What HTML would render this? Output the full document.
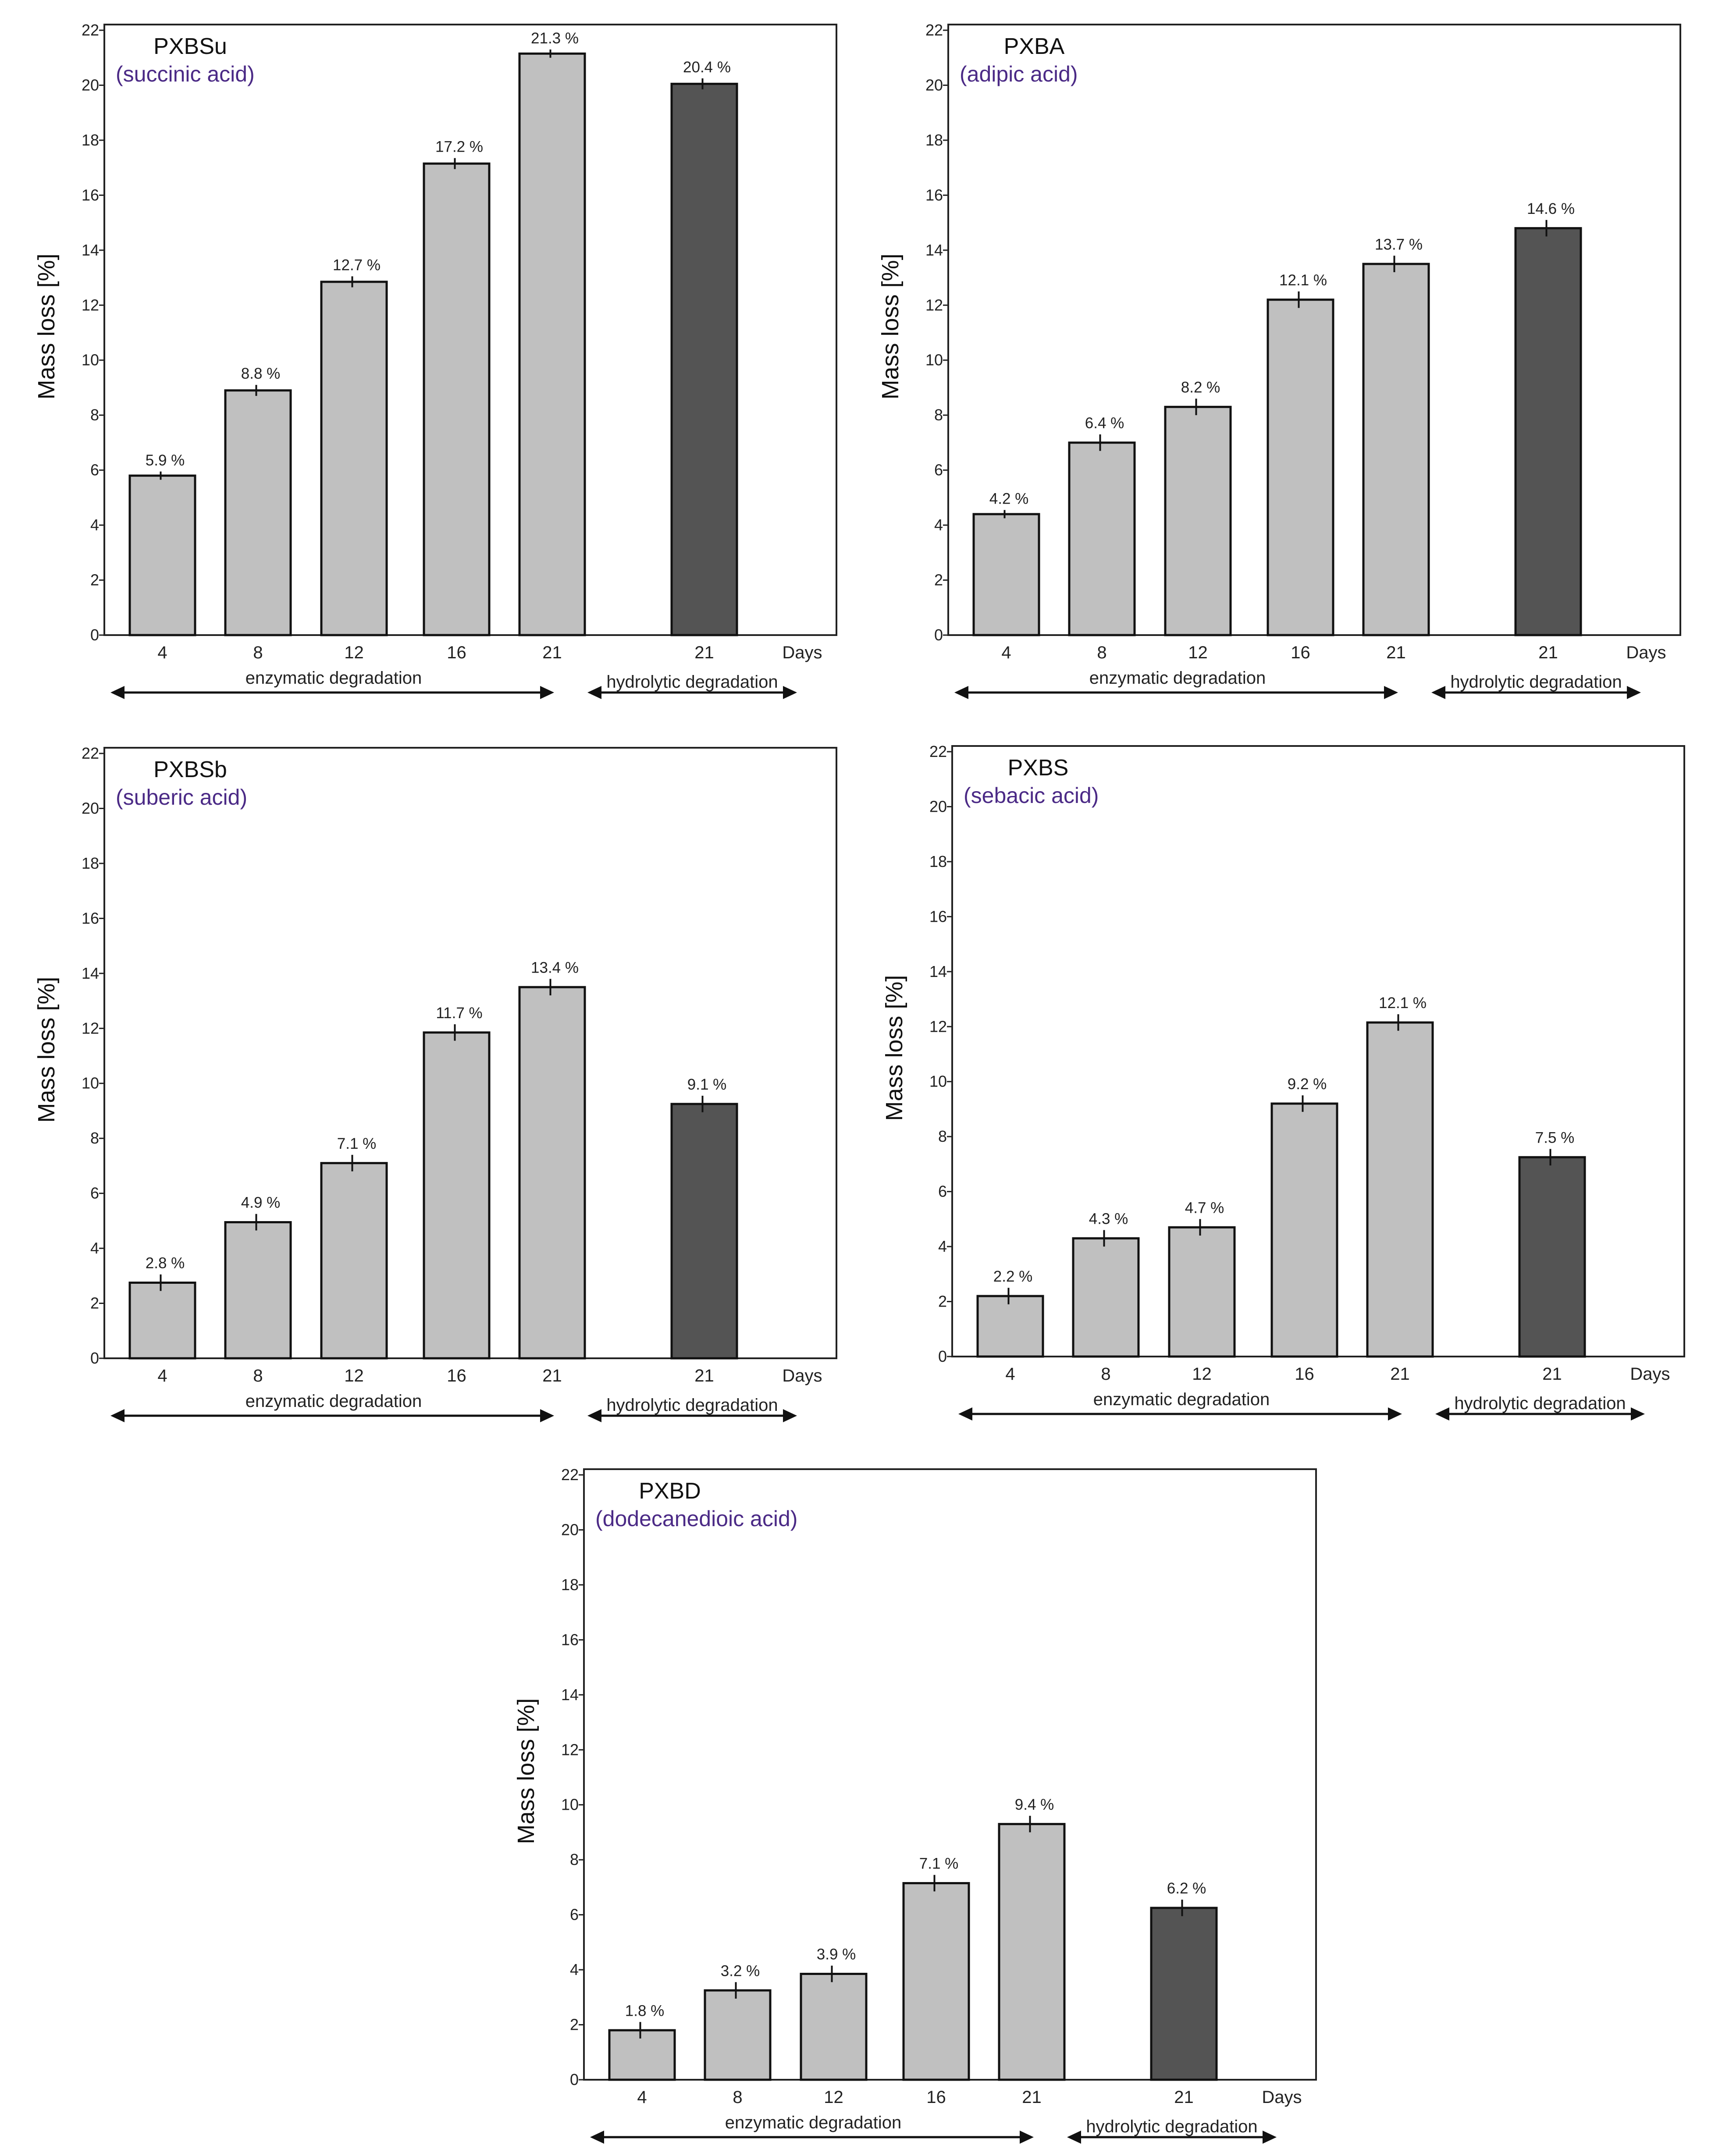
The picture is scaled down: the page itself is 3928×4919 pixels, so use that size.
<!DOCTYPE html>
<html><head><meta charset="utf-8"><style>
html,body{margin:0;padding:0;background:#fff;}
svg{display:block;font-family:"Liberation Sans",Arial,sans-serif;}
</style></head>
<body>
<svg id="fig" width="3928" height="4919" viewBox="0 0 3928 4919" xmlns="http://www.w3.org/2000/svg">
<rect width="3928" height="4919" fill="#fff"/>
</svg>
<script>
const categories = ["4","8","12","16","21","21"];
const yTicks = [0,2,4,6,8,10,12,14,16,18,20,22];
const titles = ["PXBSu","PXBA","PXBSb","PXBS","PXBD"];
const subtitles = ["(succinic acid)","(adipic acid)","(suberic acid)","(sebacic acid)","(dodecanedioic acid)"];
const valsSu = [5.8, 8.9, 12.85, 17.15, 21.15, 20.05];
const valsA  = [4.4, 7.0, 8.3, 12.2, 13.5, 14.8];
const valsSb = [2.75, 4.95, 7.1, 11.85, 13.5, 9.25];
const valsS  = [2.2, 4.3, 4.7, 9.2, 12.15, 7.25];
const valsD  = [1.8, 3.25, 3.85, 7.15, 9.3, 6.25];
const labSu = ["5.9 %","8.8 %","12.7 %","17.2 %","21.3 %","20.4 %"];
const labA  = ["4.2 %","6.4 %","8.2 %","12.1 %","13.7 %","14.6 %"];
const labSb = ["2.8 %","4.9 %","7.1 %","11.7 %","13.4 %","9.1 %"];
const labS  = ["2.2 %","4.3 %","4.7 %","9.2 %","12.1 %","7.5 %"];
const labD  = ["1.8 %","3.2 %","3.9 %","7.1 %","9.4 %","6.2 %"];
const errSu = [0.15,0.2,0.2,0.2,0.15,0.2];
const errA  = [0.15,0.3,0.3,0.3,0.3,0.3];
const errSb = [0.3,0.3,0.3,0.3,0.3,0.3];
const errS  = [0.3,0.3,0.3,0.3,0.3,0.3];
const errD  = [0.3,0.3,0.3,0.3,0.3,0.3];

const panels = [
 {dx:0, dy:0, v:valsSu, l:labSu, e:errSu},
 {dx:1925, dy:0, v:valsA, l:labA, e:errA},
 {dx:0, dy:1650, v:valsSb, l:labSb, e:errSb},
 {dx:1934, dy:1646, v:valsS, l:labS, e:errS},
 {dx:1094, dy:3296, v:valsD, l:labD, e:errD}
];
const NS="http://www.w3.org/2000/svg";
const svg=document.getElementById('fig');
function mk(tag,attrs,parent){const e=document.createElementNS(NS,tag);for(const k in attrs)e.setAttribute(k,attrs[k]);parent.appendChild(e);return e;}
const L=238,R=1908,T=56,Y0=1449,Y22=69;
const yS=v=>Y0-(Y0-Y22)*v/22;
const barLeft=[296,514,733,967,1185,1532];
const BW=149;
panels.forEach((p,pi)=>{
 const g=mk('g',{transform:`translate(${p.dx},${p.dy})`},svg);
 
 
 const fr=mk('rect',{x:L,y:T,width:R-L,height:Y0-T,fill:'none',stroke:'#222','stroke-width':4},g);
 
 
 yTicks.forEach(t=>{
  const y=yS(t);
  const tl=mk('line',{x1:L-12,x2:L,y1:y,y2:y,stroke:'#222','stroke-width':3},g);
  
  
  const tx=mk('text',{x:L-12,y:y+12,'text-anchor':'end','font-size':36,fill:'#222'},g);
  tx.textContent=t;
  
  
 });
 p.v.forEach((v,i)=>{
  const x=barLeft[i], y=yS(v);
  const b=mk('rect',{x:x,y:y,width:BW,height:Y0-y,fill:i===5?'#545454':'#c0c0c0',stroke:'#111','stroke-width':5},g);
  
  
  const cx=x+BW/2-4;
  const eb=mk('line',{x1:cx,x2:cx,y1:yS(v+p.e[i]),y2:yS(v-p.e[i]),stroke:'#111','stroke-width':4},g);
  
  
  const lt=mk('text',{x:x+BW/2+6,y:yS(v+p.e[i])-14,'text-anchor':'middle','font-size':35,fill:'#222'},g);
  lt.textContent=p.l[i];
  
  
  const xt=mk('text',{x:x+BW/2,y:1502,'text-anchor':'middle','font-size':40,fill:'#222'},g);
  xt.textContent=categories[i];
  
  
 });
 const dy=mk('text',{x:1830,y:1502,'text-anchor':'middle','font-size':40,fill:'#222'},g);
 dy.textContent='Days';
 
 
 const en=mk('text',{x:761,y:1560,'text-anchor':'middle','font-size':40,fill:'#222'},g);
 en.textContent='enzymatic degradation';
 
 
 const hy=mk('text',{x:1579,y:1569,'text-anchor':'middle','font-size':40,fill:'#222'},g);
 hy.textContent='hydrolytic degradation';
 
 
 [[252,1264],[1340,1818]].forEach((a,ai)=>{
  const ay=1580;
  const ln=mk('line',{x1:a[0]+20,x2:a[1]-20,y1:ay,y2:ay,stroke:'#111','stroke-width':5},g);
  
  
  const h1=mk('polygon',{points:`${a[0]},${ay} ${a[0]+32},${ay-15} ${a[0]+32},${ay+15}`,fill:'#111'},g);
  
  
  const h2=mk('polygon',{points:`${a[1]},${ay} ${a[1]-32},${ay-15} ${a[1]-32},${ay+15}`,fill:'#111'},g);
  
  
 });
 const yl=mk('text',{x:0,y:0,'text-anchor':'middle','font-size':54,fill:'#111',transform:'translate(124,745) rotate(-90)'},g);
 yl.textContent='Mass loss [%]';
 
 
 const ti=mk('text',{x:434,y:123,'text-anchor':'middle','font-size':52,fill:'#111'},g);
 ti.textContent=titles[pi];
 
 
 const st=mk('text',{x:264,y:186,'text-anchor':'start','font-size':50,fill:'#4b2a86'},g);
 st.textContent=subtitles[pi];
 
 
});
</script>
</body></html>
